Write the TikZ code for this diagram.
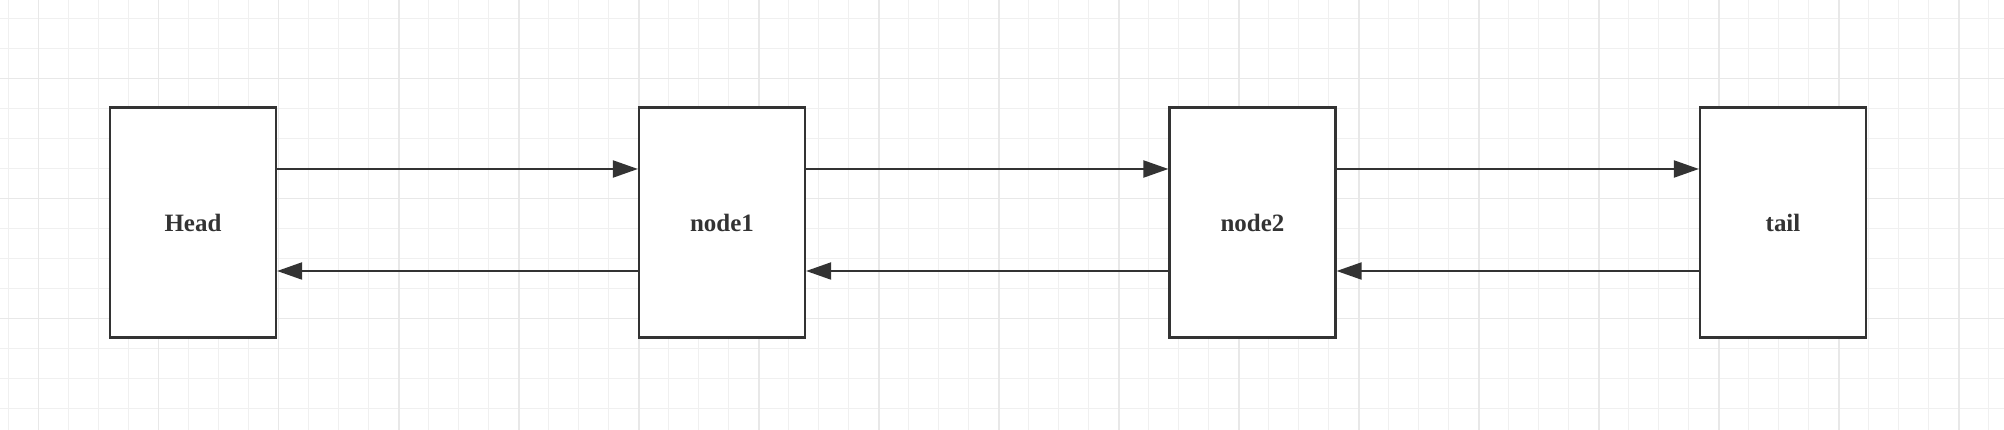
\documentclass[tikz,border=0pt]{standalone}
\usepackage{fontspec}
\setmainfont{Liberation Serif}
\usetikzlibrary{arrows.meta}

\definecolor{gridminor}{HTML}{F0F0F0}
\definecolor{gridmajor}{HTML}{E8E8E8}
\definecolor{ink}{HTML}{333333}

\tikzset{
  minorline/.style={gridminor, line width=1.1pt},
  majorline/.style={gridmajor, line width=1.7pt},
  box/.style={draw=ink, fill=white, line width=1.9pt, minimum width=4.98cm,
    minimum height=6.9cm, text=ink, font=\fontsize{21.3}{25}\selectfont\bfseries},
  link/.style={ink, line width=1.8pt, -{Triangle[length=0.75cm, width=0.51cm]}}
}

\begin{document}
\begin{tikzpicture}[x=0.03cm, y=-0.03cm]
			\useasboundingbox (0,0) rectangle (2004,430);
			\fill[white] (0,0) rectangle (2004,430);

			% Lưới nền
			\foreach \x in {8.5,38.5,...,2004} \draw[minorline] (\x,0) -- (\x,430);
			\foreach \y in {18.5,48.5,...,430} \draw[minorline] (0,\y) -- (2004,\y);
			\foreach \x in {38.5,158.5,...,2004} \draw[majorline] (\x,0) -- (\x,430);
			\foreach \y in {78.5,198.5,...,430} \draw[majorline] (0,\y) -- (2004,\y);

			% Các nút
			\node[box] (head) at (193,222.5) {Head};
			\node[box] (node1) at (722,222.5) {node1};
			\node[box] (node2) at (1252.5,222.5) {node2};
			\node[box] (tail) at (1783,222.5) {tail};

			% Mũi tên đi tới
			\draw[link] (head.east |- 0,169) -- (node1.west |- 0,169);
			\draw[link] (node1.east |- 0,169) -- (node2.west |- 0,169);
			\draw[link] (node2.east |- 0,169) -- (tail.west |- 0,169);

			% Mũi tên đi lùi
			\draw[link] (node1.west |- 0,271) -- (head.east |- 0,271);
			\draw[link] (node2.west |- 0,271) -- (node1.east |- 0,271);
			\draw[link] (tail.west |- 0,271) -- (node2.east |- 0,271);
		\end{tikzpicture}
\end{document}
